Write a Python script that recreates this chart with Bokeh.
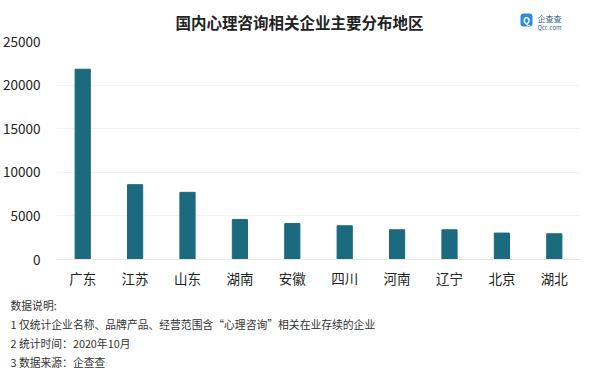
from bokeh.plotting import figure
from bokeh.layouts import column
from bokeh.models import Label, BoxAnnotation, FixedTicker, Range1d
from bokeh.embed import file_html
from bokeh.resources import INLINE

regions = ["广东", "江苏", "山东", "湖南", "安徽", "四川", "河南", "辽宁", "北京", "湖北"]
counts = [21820, 8580, 7700, 4580, 4120, 3870, 3410, 3410, 3030, 2950]
y_ticks = [0, 5000, 10000, 15000, 20000, 25000]
title_text = "国内心理咨询相关企业主要分布地区"
notes = [
    "数据说明:",
    "1 仅统计企业名称、品牌产品、经营范围含“心理咨询”相关在业存续的企业",
    "2 统计时间：2020年10月",
    "3 数据来源：企查查",
]

FONT = "Noto Sans CJK SC"
W = 584


def blank(h):
    f = figure(width=W, height=h, output_backend="svg", toolbar_location=None,
               tools="", x_axis_type=None, y_axis_type=None,
               min_border=0, x_range=Range1d(0, 1), y_range=Range1d(0, 1),
               frame_align=False)
    f.outline_line_color = None
    f.grid.grid_line_color = None
    return f


# ---- header (title + logo) ----
top = blank(32)
top.add_layout(Label(x=299, y=10.5, x_units="screen", y_units="screen",
                     text=title_text, text_font=FONT, text_font_size="15.5px",
                     text_font_style="bold", text_color="#222222",
                     text_align="center", text_baseline="middle"))
top.add_layout(BoxAnnotation(left=520, right=532, top=19, bottom=6,
                             left_units="screen", right_units="screen",
                             top_units="screen", bottom_units="screen",
                             fill_color="#2b8be0", fill_alpha=1.0, line_color=None,
                             border_radius=3))
top.add_layout(Label(x=526, y=12.5, x_units="screen", y_units="screen",
                     text="Q", text_font=FONT, text_font_size="9px",
                     text_font_style="bold", text_color="white",
                     text_align="center", text_baseline="middle"))
top.add_layout(Label(x=537, y=14.5, x_units="screen", y_units="screen",
                     text="企查查", text_font=FONT, text_font_size="8px",
                     text_color="#3a5f88", text_baseline="middle"))
top.add_layout(Label(x=537, y=5.5, x_units="screen", y_units="screen",
                     text="Qcc.com", text_font=FONT, text_font_size="6px",
                     text_color="#3a5f88", text_baseline="middle"))

# ---- main bar chart ----
p = figure(x_range=regions, width=W, height=258, output_backend="svg",
           toolbar_location=None, tools="",
           min_border_left=54, min_border_right=4,
           min_border_top=9, min_border_bottom=30, frame_align=False)
p.y_range = Range1d(0, 25000)
p.vbar(x=regions, top=counts, width=0.29, color="#1c6a7e")

p.outline_line_color = None
p.xgrid.grid_line_color = None
p.ygrid.grid_line_color = "#f3f3f3"
p.ygrid.ticker = FixedTicker(ticks=y_ticks)

p.yaxis.ticker = FixedTicker(ticks=y_ticks)
p.yaxis.axis_line_color = None
p.yaxis.major_tick_line_color = None
p.yaxis.minor_tick_line_color = None
p.yaxis.major_label_text_font = FONT
p.yaxis.major_label_text_font_size = "13.5px"
p.yaxis.major_label_text_color = "#222222"
p.yaxis.major_label_standoff = 10

p.xaxis.axis_line_color = "#e6e6e6"
p.xaxis.major_tick_line_color = None
p.xaxis.minor_tick_line_color = None
p.xaxis.major_label_text_font = FONT
p.xaxis.major_label_text_font_size = "13.5px"
p.xaxis.major_label_text_color = "#222222"
p.xaxis.major_label_standoff = 2

# ---- footnotes ----
bottom = blank(80)
note_y = [66, 47, 28, 9]
for t, yy in zip(notes, note_y):
    bottom.add_layout(Label(x=10, y=yy, x_units="screen", y_units="screen",
                            text=t, text_font=FONT, text_font_size="10.8px",
                            text_color="#333333", text_baseline="middle"))

layout = column(top, p, bottom, spacing=0)
open("out.html", "w").write(file_html(layout, INLINE))
